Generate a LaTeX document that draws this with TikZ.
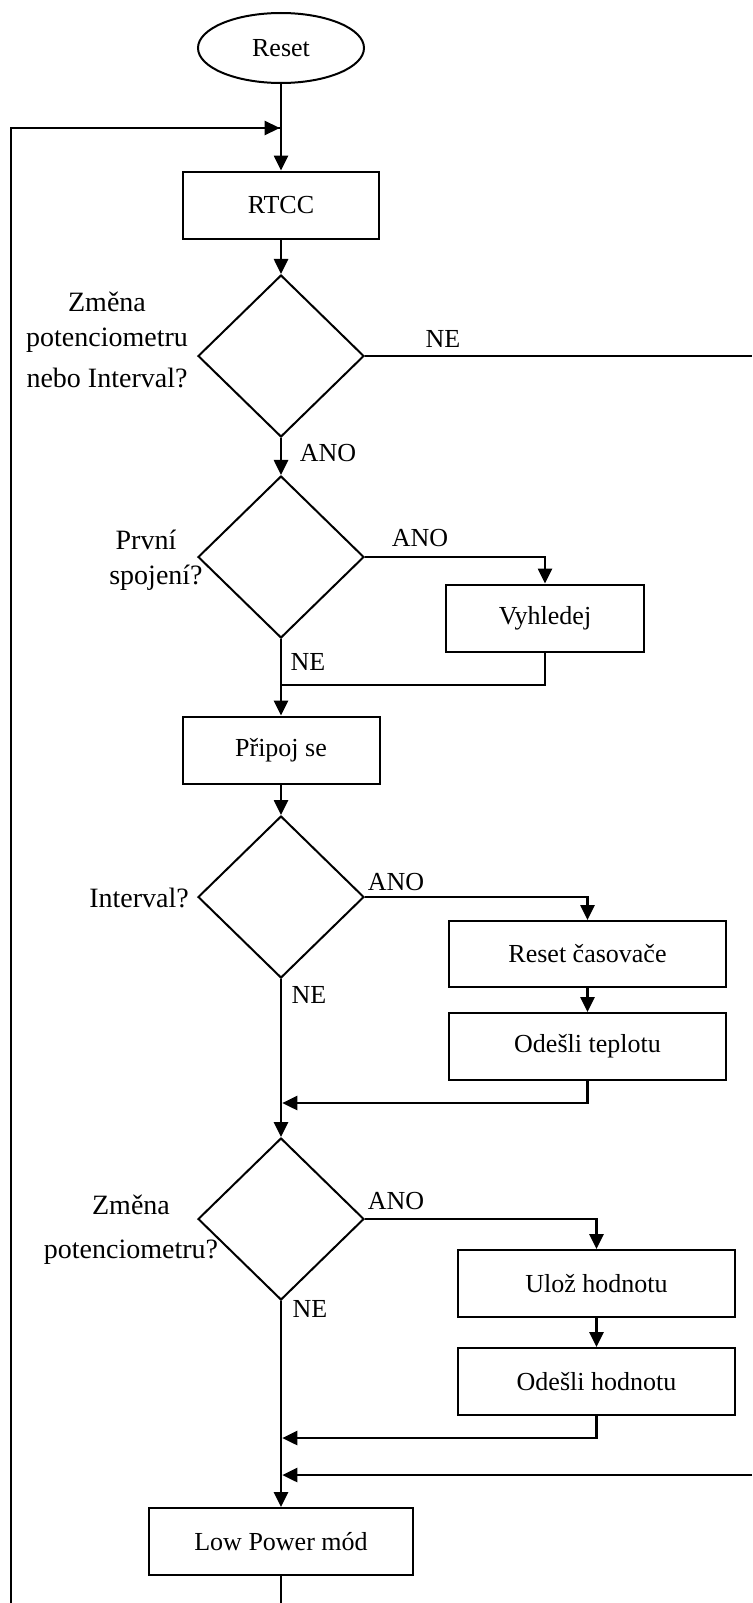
\documentclass[tikz,border=0pt]{standalone}
\usepackage{fontspec}
\setmainfont{Liberation Serif}
\usetikzlibrary{shapes.geometric,arrows.meta}
\begin{document}
\begin{tikzpicture}[x=1pt,y=-1pt,
  box/.style={draw,line width=2pt,inner sep=0pt,minimum height=67pt,font=\fontsize{26}{30}\selectfont},
  dec/.style={draw,shape=diamond,line width=2pt,inner sep=0pt,minimum width=166pt,minimum height=162pt},
  conn/.style={line width=2.6pt},
  arr/.style={conn,-{Triangle[length=15pt,width=14pt]}},
  lab/.style={font=\fontsize{26}{30}\selectfont,inner sep=0pt},
  qlab/.style={font=\fontsize{28}{32}\selectfont,inner sep=0pt}]
\useasboundingbox (0,0) rectangle (752,1603);
% nodes
\node[draw,shape=ellipse,line width=2pt,minimum width=166pt,minimum height=70pt,inner sep=0pt,font=\fontsize{26}{30}\selectfont] (reset) at (281,48) {Reset};
\node[box,minimum width=196pt] (rtcc) at (281,205) {RTCC};
\node[dec] (d1) at (281,356) {};
\node[dec] (d2) at (281,557) {};
\node[box,minimum width=198pt] (vyh) at (545,618) {Vyhledej};
\node[box,minimum width=197pt] (pri) at (281,750) {Připoj se};
\node[dec] (d3) at (281,897) {};
\node[box,minimum width=277pt,minimum height=66pt] (rc) at (587.5,954) {Reset časovače};
\node[box,minimum width=277pt] (ot) at (587.5,1046.5) {Odešli teplotu};
\node[dec] (d4) at (281,1219) {};
\node[box,minimum width=277pt] (ul) at (596.5,1283.5) {Ulož hodnotu};
\node[box,minimum width=277pt] (oh) at (596.5,1381.5) {Odešli hodnotu};
\node[box,minimum width=264pt] (lp) at (281,1541.5) {Low Power mód};
% coordinates
\coordinate (lb) at (11,1603);
\coordinate (lt) at (11,128);
\coordinate (j0) at (281,128);
\coordinate (ne1) at (752,356);
\coordinate (j1) at (281,685);
\coordinate (j2) at (281,1103);
\coordinate (j3) at (281,1438);
\coordinate (ne2) at (752,1475);
\coordinate (j4) at (281,1475);
\coordinate (bot) at (281,1603);
% labels
\node[qlab] (l1a) at (107,302) {Změna};
\node[qlab] (l1b) at (107,340) {potenciometru};
\node[qlab] (l1c) at (107,378) {nebo Interval?};
\node[lab] (n1) at (443,339) {NE};
\node[lab] (a1) at (328,453) {ANO};
\node[qlab] (l2a) at (146,540) {První};
\node[qlab] (l2b) at (156,578) {spojení?};
\node[lab] (a2) at (420,538) {ANO};
\node[lab] (n2) at (308,662) {NE};
\node[qlab,anchor=east] (l3) at (189,898) {Interval?};
\node[lab] (a3) at (396,882) {ANO};
\node[lab] (n3) at (309,995) {NE};
\node[qlab] (l4a) at (131,1205) {Změna};
\node[qlab] (l4b) at (131,1252) {potenciometru?};
\node[lab] (a4) at (396,1201) {ANO};
\node[lab] (n4) at (310,1309) {NE};
% connectors
\draw[line width=1.7pt] (lb) -- (lt) -- (j0);
\draw[arr,shorten >=1.3pt] (lt) -- (j0);
\draw[arr] (reset) -- (rtcc);
\draw[arr] (rtcc) -- (d1);
\draw[line width=2.2pt] (d1.east) -- (ne1);
\draw[arr] (d1) -- (d2);
\draw[arr] (d2.east) -| (vyh.north);
\draw[arr] (d2) -- (pri);
\draw[conn] (vyh.south) |- (j1);
\draw[arr] (pri) -- (d3);
\draw[arr] (d3.east) -| (rc.north);
\draw[arr] (rc) -- (ot);
\draw[arr,shorten >=1.3pt] (ot.south) |- (j2);
\draw[arr] (d3) -- (d4);
\draw[arr] (d4.east) -| (ul.north);
\draw[arr] (ul) -- (oh);
\draw[arr,shorten >=1.3pt] (oh.south) |- (j3);
\draw[arr,shorten >=1.3pt] (ne2) -- (j4);
\draw[arr] (d4) -- (lp);
\draw[line width=2pt] (lp.south) -- (bot);
\end{tikzpicture}
\end{document}
